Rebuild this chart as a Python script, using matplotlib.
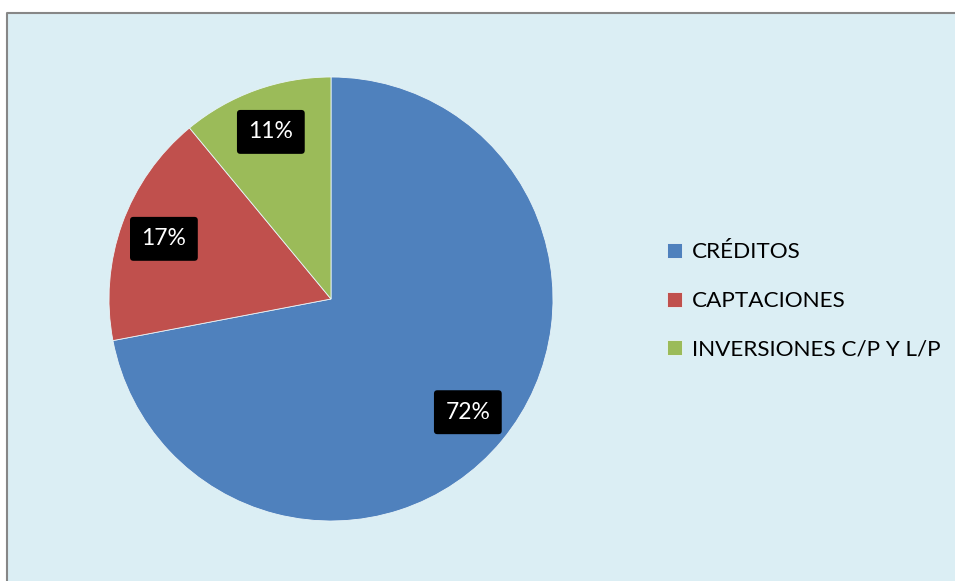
import matplotlib.pyplot as plt
from matplotlib.patches import Rectangle
from matplotlib.lines import Line2D

categorias = ["CRÉDITOS", "CAPTACIONES", "INVERSIONES C/P Y L/P"]
porcentajes = [72, 17, 11]
colores = ["#4F81BD", "#C0504D", "#9BBB59"]

plt.rcParams['font.family'] = ['Lato', 'DejaVu Sans']

W, H = 955, 581
fig = plt.figure(figsize=(W / 100, H / 100), dpi=100)
fig.patch.set_facecolor("white")

# chart area; the grey frame only shows on the top and left sides
x0, y0 = 6.5 / W, 1 - 12.5 / H
fig.patches.append(Rectangle((x0, 0), 1 - x0, y0, transform=fig.transFigure,
                             facecolor="#DBEEF4", edgecolor="none", zorder=-5))
fig.lines.append(Line2D([x0, x0, 1], [0, y0, y0], transform=fig.transFigure,
                        color="#878787", linewidth=1.5, zorder=-4))

# pie: centre (331, 299) px, radius 222 px
cx, cy, r = 331, 299, 222
ax = fig.add_axes([(cx - r) / W, (H - cy - r) / H, 2 * r / W, 2 * r / H])
ax.set_facecolor("none")
ax.set_zorder(2)

wedges, texts, autotexts = ax.pie(
    porcentajes, colors=colores, startangle=90, counterclock=False,
    autopct='%.0f%%', pctdistance=0.8,
    wedgeprops=dict(edgecolor="#E8F4F8", linewidth=0.6),
    textprops=dict(color="white", fontsize=16.5))
for t in autotexts:
    t.set_bbox(dict(boxstyle="round,pad=0.5,rounding_size=0.15",
                    facecolor="black", edgecolor="none"))
ax.set_xlim(-1, 1)
ax.set_ylim(-1, 1)
ax.set_aspect('equal')

leg = fig.legend(wedges, categorias, loc="center left",
                 bbox_to_anchor=(656 / W, 1 - 301 / H), frameon=False,
                 fontsize=16.2, handlelength=0.65, handleheight=0.65,
                 handletextpad=0.45, labelspacing=1.27, borderpad=0)
leg.set_zorder(3)

fig.savefig("out.png", dpi=100, facecolor=fig.get_facecolor())
